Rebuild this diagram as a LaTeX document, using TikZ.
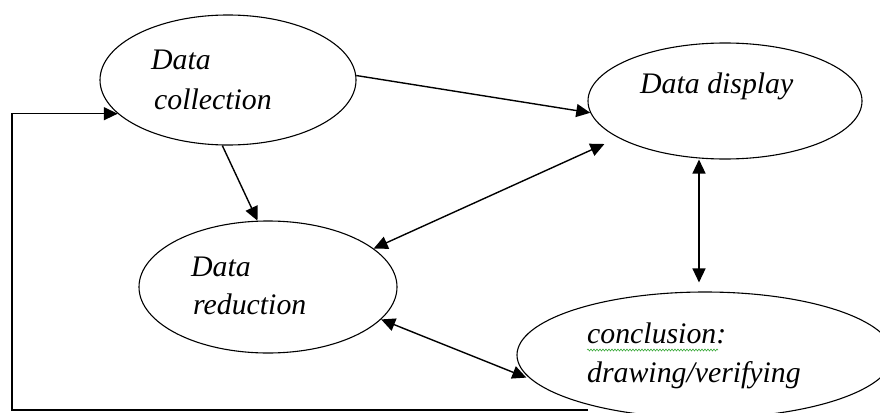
\documentclass[tikz,border=0pt]{standalone}
\usepackage{fontspec}
\setmainfont{Liberation Serif}
\usetikzlibrary{arrows.meta,calc,shapes.geometric,decorations.pathmorphing}
\definecolor{spellgreen}{RGB}{60,170,60}
\begin{document}
\begin{tikzpicture}[x=1pt,y=-1pt,
  oval/.style={draw=black, line width=1.1pt, ellipse, inner sep=0pt},
  lbl/.style={inner sep=0pt, anchor=base west, font=\fontsize{29.8}{36}\selectfont\itshape},
  conn/.style={draw=black, line width=1.4pt, -{Triangle[length=14pt,width=13pt]}},
  dconn/.style={draw=black, line width=1.4pt, {Triangle[length=14pt,width=13pt]}-{Triangle[length=14pt,width=13pt]}},
]
\useasboundingbox (0,0) rectangle (880,412);
\clip (0,0) rectangle (880,412);
% ellipses
\node[oval, minimum width=256pt, minimum height=130pt] (col) at (228,80) {};
\node[oval, minimum width=274pt, minimum height=116pt] (dis) at (725,101) {};
\node[oval, minimum width=258pt, minimum height=132pt] (red) at (268,287) {};
\node[oval, minimum width=376pt, minimum height=126pt] (con) at (705,355) {};
% labels
\node[lbl] (colA) at (151,70) {Data};
\node[lbl] (colB) at (154,109) {collection};
\node[lbl] (disA) at (640,93) {Data display};
\node[lbl] (redA) at (191,276) {Data};
\node[lbl] (redB) at (193,314) {reduction};
\node[lbl] (conA) at (587,343) {conclusion:};
\node[lbl] (conB) at (587,382) {drawing/verifying};
% spell-check squiggle
\draw[spellgreen, line width=0.6pt, decorate, decoration={snake, amplitude=1pt, segment length=3pt}]
  ($(conA.base west)+(0,7)$) -- ++(131,0);
% connectors
\draw[conn] (col.2) -- (dis.185);
\draw[conn] (col.265) -- (red.99);
\draw[dconn, shorten >=15pt] (red.20) -- (dis.199);
\draw[dconn, shorten >=5pt] (red.344) -- (con.188);
\draw[dconn, shorten >=9pt] ([xshift=-6pt]con.north |- dis.south) -- ([xshift=-6pt]con.north);
\coordinate (fb) at (588,410);
\draw[conn] (fb) -- (12,410) |- (col.197);
\end{tikzpicture}
\end{document}
